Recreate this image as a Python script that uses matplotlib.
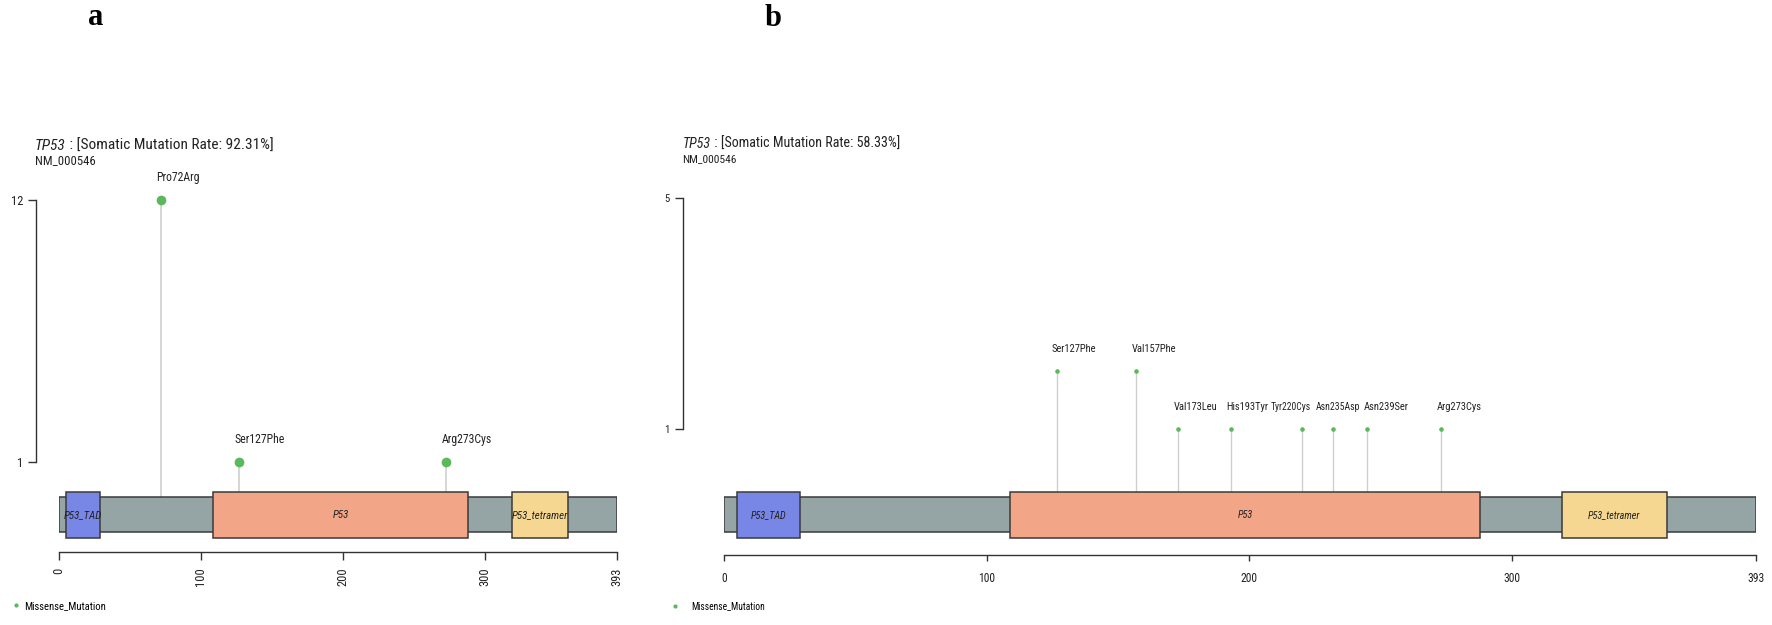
import matplotlib
matplotlib.use('Agg')
import matplotlib.pyplot as plt
from matplotlib.patches import Rectangle
from matplotlib.lines import Line2D
from matplotlib import font_manager as fm

W, H, DPI = 1772, 625, 100

# ---------------- data ----------------
gene = 'TP53'
transcript = 'NM_000546'
protein_length = 393
domain_names = ['P53_TAD', 'P53', 'P53_tetramer']
domain_start = [5, 109, 319]
domain_end = [29, 288, 359]
domain_colors = ['#7886E6', '#F2A587', '#F6D792']
x_ticks = [0, 100, 200, 300, 393]

a_rate = '92.31%'
a_labels = ['Pro72Arg', 'Ser127Phe', 'Arg273Cys']
a_pos = [72, 127, 273]
a_count = [12, 1, 1]
a_yticks = [1, 12]

b_rate = '58.33%'
b_labels = ['Ser127Phe', 'Val157Phe', 'Val173Leu', 'His193Tyr',
            'Tyr220Cys', 'Asn235Asp', 'Asn239Ser', 'Arg273Cys']
b_pos = [127, 157, 173, 193, 220, 232, 245, 273]
b_count = [2, 2, 1, 1, 1, 1, 1, 1]
b_yticks = [1, 5]

legend_label = 'Missense_Mutation'
# --------------------------------------

names = {f.name for f in fm.fontManager.ttflist}
if 'Liberation Sans Narrow' in names:
    SANS = ['Liberation Sans Narrow', 'Liberation Sans', 'DejaVu Sans']
    K, KL = 1.0, 0.97
elif 'Roboto Condensed' in names:
    SANS = ['Roboto Condensed', 'Liberation Sans', 'DejaVu Sans']
    K, KL = 0.97, 0.92
else:
    SANS = ['Liberation Sans', 'DejaVu Sans']
    K, KL = 0.9, 0.82
plt.rcParams['font.family'] = SANS

GREEN = '#5CB85C'
GRAY = '#95A5A6'
EDGE = '#3a3a3a'
STEM = '#CFCFCF'
TXT = '#222222'

fig = plt.figure(figsize=(W / DPI, H / DPI), dpi=DPI)


def fx(px):
    return px / W


def fy(py):
    return 1 - py / H


def draw_panel(labels, pos, count, yticks, rate, lay):
    l, r = lay['left'], lay['right']
    top, bot, c1 = lay['top'], lay['bottom'], lay['c1']
    ymax = yticks[-1]
    scale = (c1 - top) / (ymax - 1)
    ymin = 1 - (bot - c1) / scale
    ax = fig.add_axes([fx(l), fy(bot), fx(r) - fx(l), (bot - top) / H])
    ax.set_xlim(0, protein_length)
    ax.set_ylim(ymin, ymax)
    ax.patch.set_visible(False)

    def py(p):
        return ymax - (p - top) / scale

    # protein backbone
    ax.add_patch(Rectangle((0, py(532)), protein_length, py(497) - py(532),
                           fc=GRAY, ec=EDGE, lw=1.1, zorder=2))
    for name, s, e, c in zip(domain_names, domain_start, domain_end, domain_colors):
        ax.add_patch(Rectangle((s, py(538)), e - s, py(492) - py(538),
                               fc=c, ec=EDGE, lw=1.1, zorder=3))
        ax.text((s + e) / 2, py(515), name, style='italic', ha='center', va='center',
                fontsize=lay['dom_fs'] * K, color=TXT, zorder=4)

    # stems, points, labels
    for lab, p, c, nud, sz in zip(labels, pos, count, lay['nudge'], lay['lab_scale']):
        in_dom = any(s <= p <= e for s, e in zip(domain_start, domain_end))
        base = py(492) if in_dom else py(497)
        ax.vlines(p, base, c, color=STEM, lw=lay['stem_lw'], zorder=1)
        ax.plot([p], [c], 'o', color=GREEN, ms=lay['ms'], mec='none', zorder=5,
                clip_on=False)
        ax.annotate(lab, xy=(p, c), xytext=(nud * 0.72, 19 * 0.72),
                    textcoords='offset points', ha='left', va='baseline',
                    fontsize=lay['lab_fs'] * lay['klab'] * sz, color=TXT,
                    annotation_clip=False)

    # axes styling
    for s in ['top', 'right']:
        ax.spines[s].set_visible(False)
    ax.spines['left'].set_position(('outward', (l - lay['yaxis_x']) * 0.72))
    ax.spines['left'].set_bounds(yticks[0], yticks[-1])
    ax.spines['bottom'].set_bounds(0, protein_length)
    for s in ['left', 'bottom']:
        ax.spines[s].set_color('#333333')
        ax.spines[s].set_linewidth(1.0)
    ax.set_yticks(yticks)
    ax.set_xticks(x_ticks)
    ax.tick_params(axis='y', length=5.5, width=1.0, pad=4, labelsize=lay['tick_fs'] * K,
                   colors='#333333', labelcolor=TXT)
    ax.tick_params(axis='x', length=lay['xtick_len'], width=1.0, pad=lay['xpad'],
                   labelsize=lay['xtick_fs'] * K, labelrotation=lay['xrot'],
                   colors='#333333', labelcolor=TXT)

    # title
    t1 = fig.text(fx(lay['title_x']), fy(lay['title_y']), gene, style='italic',
                  fontsize=lay['title_fs'] * K, ha='left', va='bottom', color=TXT)
    ax.annotate(' : [Somatic Mutation Rate: ' + rate + ']', xy=(1, 0), xycoords=t1,
                ha='left', va='bottom', fontsize=lay['title_fs'] * K, color=TXT,
                annotation_clip=False)
    fig.text(fx(lay['title_x']), fy(lay['sub_y']), transcript, ha='left', va='baseline',
             fontsize=lay['sub_fs'] * K, color=TXT)

    # legend
    h = Line2D([], [], marker='o', ls='none', color=GREEN, ms=3, mec='none')
    ax.legend([h], [legend_label], loc='center left', frameon=False,
              bbox_to_anchor=(fx(lay['leg_x']), fy(606)), bbox_transform=fig.transFigure,
              borderpad=0, borderaxespad=0, handlelength=0.6,
              handletextpad=lay['leg_pad'], fontsize=lay['leg_fs'] * K)
    return ax


lay_a = dict(left=58.7, right=616.7, top=200, bottom=552, c1=462, yaxis_x=36.4,
             dom_fs=8.1, lab_fs=9.0, klab=(K + KL) / 2, lab_scale=[1, 1, 1],
             tick_fs=9.3, xtick_fs=9.3, title_fs=11.4, sub_fs=9.5, leg_fs=7.9,
             ms=7.0, stem_lw=1.2, nudge=[-5, -5, -5], xrot=90, xtick_len=5.8, xpad=5.5,
             title_x=35, title_y=153, sub_y=164, leg_x=12.7, leg_pad=0.52)
lay_b = dict(left=724, right=1756, top=198, bottom=555, c1=429, yaxis_x=682.6,
             dom_fs=7.5, lab_fs=8.25, klab=KL, lab_scale=[1, 1, 1, 1, 0.92, 0.93, 1, 1],
             tick_fs=8.0, xtick_fs=8.6, title_fs=10.4, sub_fs=8.5, leg_fs=7.1,
             ms=3.3, stem_lw=1.0, nudge=[-5.6, -4.7, -5, -4.5, -31, -17, -3.7, -4.3],
             xrot=0, xtick_len=4.3, xpad=8, title_x=682.6, title_y=151, sub_y=162,
             leg_x=672, leg_pad=1.42)

draw_panel(a_labels, a_pos, a_count, a_yticks, a_rate, lay_a)
draw_panel(b_labels, b_pos, b_count, b_yticks, b_rate, lay_b)

fig.text(fx(96), fy(25), 'a', family=['Liberation Serif', 'DejaVu Serif'], weight='bold',
         fontsize=22, ha='center', va='baseline')
fig.text(fx(773), fy(26), 'b', family=['Liberation Serif', 'DejaVu Serif'], weight='bold',
         fontsize=22, ha='center', va='baseline')

fig.savefig('out.png', dpi=DPI)
